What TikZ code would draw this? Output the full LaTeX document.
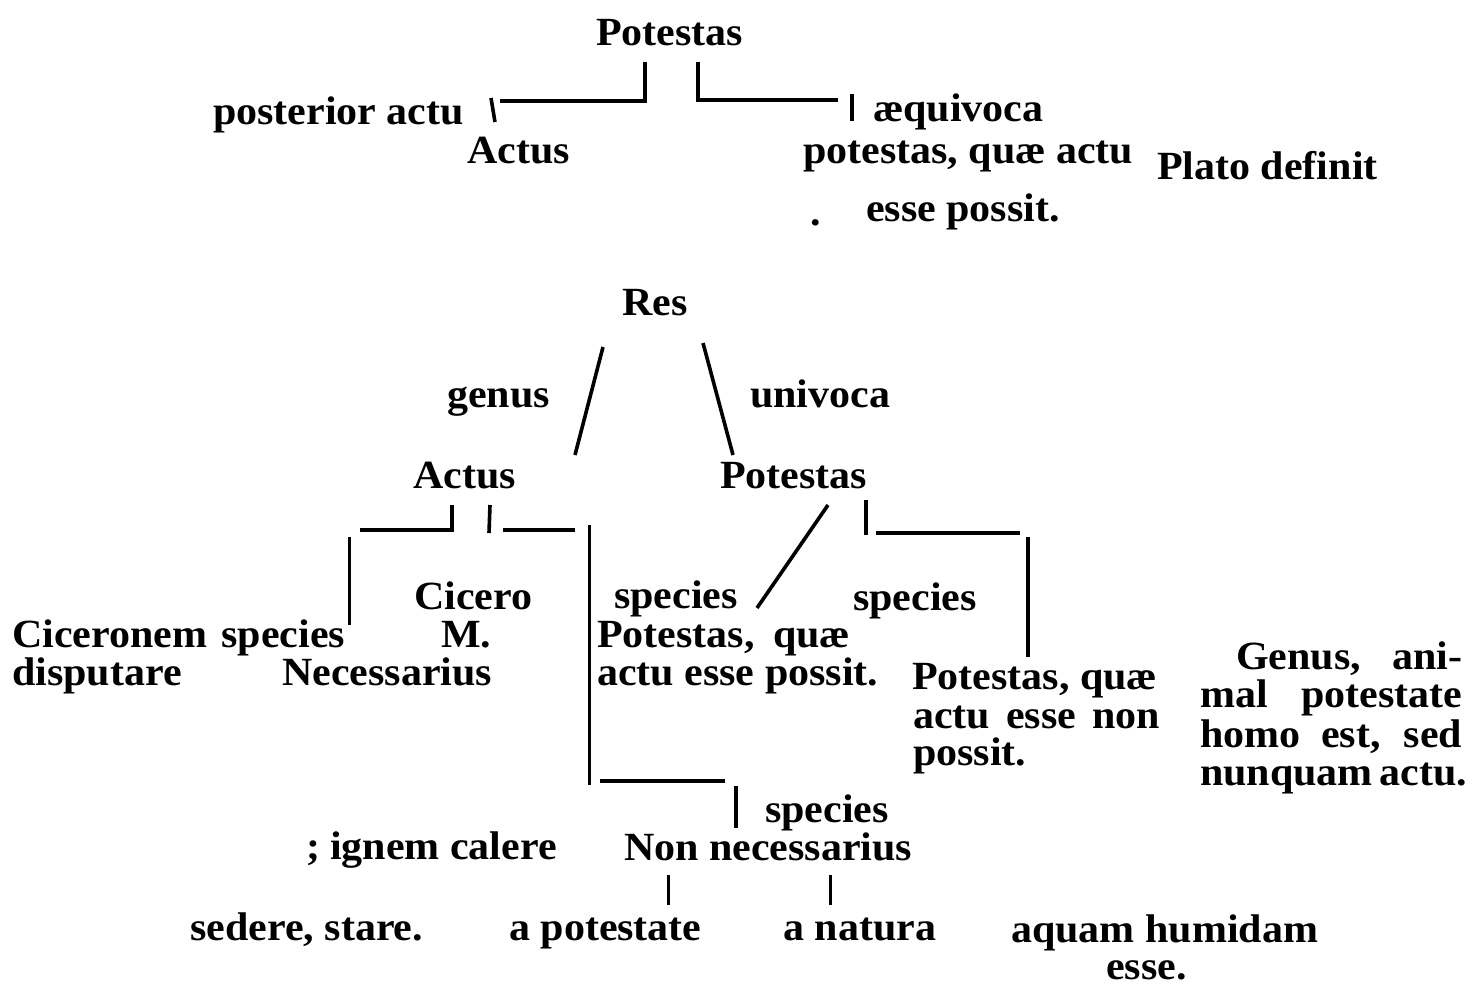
\documentclass[tikz,border=0pt]{standalone}
\usepackage{fontspec}
\setmainfont[FakeStretch=1.05]{Liberation Serif}
\begin{document}
\begin{tikzpicture}[x=1pt,y=-1pt,
  t/.style={anchor=base west, inner sep=0pt, font=\bfseries\fontsize{40}{38}\selectfont},
  ln/.style={line width=3.6pt},
  thin/.style={line width=3pt}]
\useasboundingbox (0,0) rectangle (1473,987);
\fill[white] (0,0) rectangle (1473,987);
% ---------- top diagram ----------
\node[t] (pot1) at (596,46) {Potestas};
\node[t] (post) at (213,125) {posterior actu};
\node[t] (act1) at (467,164) {Actus};
\node[t] (aeq) at (873,122) {æquivoca};
\node[t] (pqa) at (803,164) {potestas, quæ actu};
\node[t] (plato) at (1157,180) {Plato definit};
\node[t] (dot1) at (810,226) {.};
\node[t] (esse1) at (866,222) {esse possit.};
\coordinate (a1) at (645,62); \coordinate (a2) at (645,101); \coordinate (a3) at (500,101);
\coordinate (b1) at (698,62); \coordinate (b2) at (698,100); \coordinate (b3) at (838,100);
\coordinate (c1) at (491,98); \coordinate (c2) at (495,122);
\coordinate (d1) at (852,94); \coordinate (d2) at (852,121);
\draw[ln] (a1) -- (a2) -- (a3);
\draw[ln] (b1) -- (b2) -- (b3);
\draw[ln] (c1) -- (c2);
\draw[ln] (d1) -- (d2);
% ---------- main diagram ----------
\node[t] (res) at (622,316) {Res};
\node[t] (genus) at (447,407) {genus};
\node[t] (univ) at (750,407) {univoca};
\node[t] (act2) at (413,488) {Actus};
\node[t] (pot2) at (720,488) {Potestas};
\coordinate (r1) at (603,347); \coordinate (r2) at (575,455);
\coordinate (r3) at (703,343); \coordinate (r4) at (733,455);
\draw[ln] (r1) -- (r2);
\draw[ln] (r3) -- (r4);
% under Actus
\coordinate (e1) at (452,505); \coordinate (e2) at (452,530); \coordinate (e3) at (360,530);
\coordinate (f1) at (490,505); \coordinate (f2) at (489,533);
\coordinate (f3) at (503,530); \coordinate (f4) at (575,530);
\coordinate (g1) at (349,537); \coordinate (g2) at (349,625);
\coordinate (h1) at (589,525); \coordinate (h2) at (589,785);
\coordinate (h3) at (600,781); \coordinate (h4) at (725,781);
\coordinate (h5) at (736,786); \coordinate (h6) at (736,828);
\draw[ln] (e1) -- (e2) -- (e3);
\draw[ln] (f1) -- (f2);
\draw[ln] (f3) -- (f4);
\draw[thin] (g1) -- (g2);
\draw[thin] (h1) -- (h2);
\draw[ln] (h3) -- (h4);
\draw[ln] (h5) -- (h6);
\node[t] (cic) at (414,609) {Cicero};
\node[t] (m) at (441,647) {M.};
\node[t] (nec) at (282,685) {Necessarius};
\node[t] (cicsp) at (12,647) {\makebox[333pt][s]{Ciceronem species}};
\node[t] (disp) at (12,685) {disputare};
\node[t] (sp1) at (614,608) {species};
\node[t] (pq1) at (597,647) {\makebox[253pt][s]{Potestas, quæ}};
\node[t] (aep1) at (597,685) {actu esse possit.};
% under Potestas
\coordinate (k1) at (828,505); \coordinate (k2) at (757,608);
\coordinate (l1) at (866,500); \coordinate (l2) at (866,535);
\coordinate (l3) at (876,533); \coordinate (l4) at (1020,533);
\coordinate (l5) at (1028,537); \coordinate (l6) at (1028,657);
\draw[ln] (k1) -- (k2);
\draw[ln] (l1) -- (l2);
\draw[ln] (l3) -- (l4);
\draw[ln] (l5) -- (l6);
\node[t] (sp2) at (853,610) {species};
\node[t] (pq2) at (912,689) {\makebox[245pt][s]{Potestas, quæ}};
\node[t] (aen) at (913,728) {\makebox[247pt][s]{actu esse non}};
\node[t] (pos2) at (913,765) {possit.};
\node[t] (gen) at (1236,669) {\makebox[226pt][s]{Genus, ani-}};
\node[t] (mal) at (1200,707) {\makebox[262pt][s]{mal potestate}};
\node[t] (homo) at (1200,747) {\makebox[262pt][s]{homo est, sed}};
\node[t] (nunq) at (1200,785) {\makebox[262pt][s]{nunquam actu.}};
% bottom
\node[t] (sp3) at (765,822) {species};
\node[t] (semi) at (306,859) {;};
\node[t] (ign) at (330,859) {ignem calere};
\node[t] (nonn) at (624,860) {Non necessarius};
\coordinate (m1) at (668,875); \coordinate (m2) at (668,905);
\coordinate (n1) at (830,875); \coordinate (n2) at (830,905);
\draw[thin] (m1) -- (m2);
\draw[thin] (n1) -- (n2);
\node[t] (sed) at (190,940) {sedere, stare.};
\node[t] (apot) at (509,940) {a potestate};
\node[t] (anat) at (783,940) {a natura};
\node[t] (aqua) at (1011,942) {aquam humidam};
\node[t] (esse2) at (1106,979) {esse.};
\end{tikzpicture}
\end{document}
